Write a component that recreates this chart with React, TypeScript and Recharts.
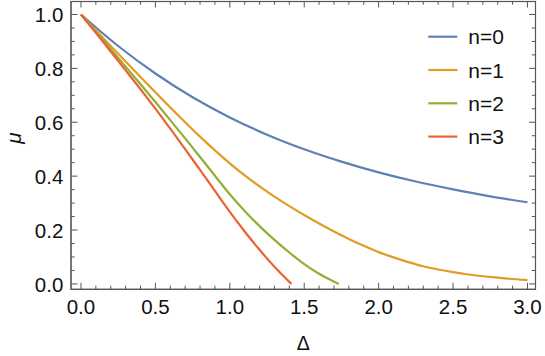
import React from 'react';
import { LineChart, Line, XAxis, YAxis, Label } from 'recharts';

// ---- data ----
const delta0 = [0, 0.25, 0.5, 0.75, 1, 1.25, 1.5, 1.75, 2, 2.25, 2.5, 2.75, 3];
const mu0 = [1, 0.883, 0.781, 0.693, 0.618, 0.554, 0.5, 0.454, 0.414, 0.38, 0.351, 0.325, 0.303];

const delta1 = [0, 0.1, 0.2, 0.3, 0.4, 0.5, 0.6, 0.7, 0.8, 0.9, 1.0, 1.1, 1.2, 1.3, 1.4, 1.5, 1.6, 1.7, 1.8, 1.9, 2.0,
  2.1, 2.2, 2.3, 2.4, 2.5, 2.6, 2.7, 2.8, 2.9, 3.0];
const mu1 = [1, 0.9415, 0.8832, 0.8252, 0.7677, 0.711, 0.655, 0.6, 0.5465, 0.4955, 0.4475, 0.403, 0.362, 0.324, 0.2885,
  0.2555, 0.224, 0.1945, 0.167, 0.1415, 0.118, 0.0985, 0.081, 0.0655, 0.0535, 0.0435, 0.035, 0.0285, 0.023, 0.0182, 0.014];

const delta2 = [0, 0.1, 0.2, 0.3, 0.4, 0.5, 0.6, 0.7, 0.8, 0.9, 1.0, 1.1, 1.2, 1.3, 1.4, 1.5, 1.6, 1.7, 1.732];
const mu2 = [1, 0.936, 0.8715, 0.8065, 0.741, 0.675, 0.608, 0.54, 0.471, 0.4015, 0.3325, 0.2705, 0.2145, 0.1635, 0.1165,
  0.0735, 0.0375, 0.0085, 0];

const delta3 = [0, 0.1, 0.2, 0.3, 0.4, 0.5, 0.6, 0.7, 0.8, 0.9, 1.0, 1.1, 1.2, 1.3, 1.414];
const mu3 = [1, 0.9315, 0.8625, 0.793, 0.7225, 0.6505, 0.5765, 0.5005, 0.423, 0.345, 0.2675, 0.1945, 0.1265, 0.0635, 0];

const seriesNames = ['n=0', 'n=1', 'n=2', 'n=3'];
const seriesColors = ['#5E81B5', '#E19C24', '#8FB032', '#EB6235'];

const xTicks = [0, 0.1, 0.2, 0.3, 0.4, 0.5, 0.6, 0.7, 0.8, 0.9, 1.0, 1.1, 1.2, 1.3, 1.4, 1.5, 1.6, 1.7, 1.8, 1.9, 2.0,
  2.1, 2.2, 2.3, 2.4, 2.5, 2.6, 2.7, 2.8, 2.9, 3.0];
const yTicks = [0, 0.05, 0.1, 0.15, 0.2, 0.25, 0.3, 0.35, 0.4, 0.45, 0.5, 0.55, 0.6, 0.65, 0.7, 0.75, 0.8, 0.85, 0.9, 0.95, 1.0];
const xMajorStep = 0.5;
const yMajorStep = 0.2;

const xLabel = 'Δ';
const yLabel = 'μ';

const zip = (xs: number[], ys: number[]) => xs.map((x, i) => ({ x, y: ys[i] }));
const seriesData = [zip(delta0, mu0), zip(delta1, mu1), zip(delta2, mu2), zip(delta3, mu3)];

// ---- layout ----
const W = 545;
const H = 356;
const MARGIN = { top: 1, right: 9.5, bottom: 0, left: 0 };
const Y_AXIS_W = 71;
const X_AXIS_H = 66.7;
const PLOT_LEFT = 71;
const PLOT_RIGHT = 535.5;
const PLOT_TOP = 1;
const PLOT_BOTTOM = 289.3;

const FONT = '"Liberation Sans", Arial, Helvetica, sans-serif';
const FRAME = '#555555';
const TEXT = '#111111';
const X_DOMAIN: [number, number] = [-0.067, 3.054];
const Y_DOMAIN: [number, number] = [-0.02, 1.05];
const MAJOR_LEN = 6.5;
const MINOR_LEN = 3.7;

const isMajor = (v: number, step: number) => Math.abs(v / step - Math.round(v / step)) < 1e-6;

// same linear mapping as the chart's axes, used only for the mirrored frame ticks
const frameX = (v: number) => PLOT_LEFT + ((v - X_DOMAIN[0]) / (X_DOMAIN[1] - X_DOMAIN[0])) * (PLOT_RIGHT - PLOT_LEFT);
const frameY = (v: number) => PLOT_BOTTOM - ((v - Y_DOMAIN[0]) / (Y_DOMAIN[1] - Y_DOMAIN[0])) * (PLOT_BOTTOM - PLOT_TOP);

const BottomTick = (props: any) => {
  const { x, y, payload } = props;
  const v = payload.value as number;
  const major = isMajor(v, xMajorStep);
  return (
    <g>
      <line x1={x} x2={x} y1={y} y2={y - (major ? MAJOR_LEN : MINOR_LEN)} stroke={FRAME} strokeWidth={1} />
      {major && (
        <text x={x} y={y + 24.5} textAnchor="middle" fontSize={20.5} fontFamily={FONT} fill={TEXT}>
          {v.toFixed(1)}
        </text>
      )}
    </g>
  );
};

const LeftTick = (props: any) => {
  const { x, y, payload } = props;
  const v = payload.value as number;
  const major = isMajor(v, yMajorStep);
  return (
    <g>
      <line x1={x} x2={x + (major ? MAJOR_LEN : MINOR_LEN)} y1={y} y2={y} stroke={FRAME} strokeWidth={1} />
      {major && (
        <text x={x - 7.7} y={y + 7.6} textAnchor="end" fontSize={20.5} fontFamily={FONT} fill={TEXT}>
          {v.toFixed(1)}
        </text>
      )}
    </g>
  );
};

const XAxisTitle = (props: any) => {
  const vb = props.viewBox || {};
  const cx = vb.x + vb.width / 2;
  return (
    <text x={cx} y={350} textAnchor="middle" fontSize={19.5} fontFamily={FONT} fill={TEXT}>
      {xLabel}
    </text>
  );
};

const YAxisTitle = () => {
  const cx = 20.5;
  const cy = 138;
  return (
    <text x={cx} y={cy} textAnchor="middle" fontSize={20.5} fontStyle="italic" fontFamily={FONT} fill={TEXT}
      transform={`rotate(-90, ${cx}, ${cy})`}>
      {yLabel}
    </text>
  );
};

const Overlay = () => (
  <svg width={W} height={H} viewBox={`0 0 ${W} ${H}`}
    style={{ position: 'absolute', left: 0, top: 0, pointerEvents: 'none', zIndex: 5 }}>
    {/* full plot frame (left/bottom coincide with the axis lines) */}
    <rect x={PLOT_LEFT} y={PLOT_TOP + 0.5} width={PLOT_RIGHT - PLOT_LEFT} height={PLOT_BOTTOM - PLOT_TOP - 0.5}
      fill="none" stroke={FRAME} strokeWidth={1.2} />
    {xTicks.map((t) => (
      <line key={'tt' + t} x1={frameX(t)} x2={frameX(t)} y1={PLOT_TOP}
        y2={PLOT_TOP + (isMajor(t, xMajorStep) ? MAJOR_LEN : MINOR_LEN)} stroke={FRAME} strokeWidth={1} />
    ))}
    {yTicks.map((t) => (
      <line key={'rt' + t} x1={PLOT_RIGHT} x2={PLOT_RIGHT - (isMajor(t, yMajorStep) ? MAJOR_LEN : MINOR_LEN)}
        y1={frameY(t)} y2={frameY(t)} stroke={FRAME} strokeWidth={1} />
    ))}
    {/* legend */}
    {seriesNames.map((name, i) => {
      const cy = 36.7 + i * 33.3;
      return (
        <g key={name}>
          <line x1={428.3} x2={457.3} y1={cy} y2={cy} stroke={seriesColors[i]} strokeWidth={2.2} />
          <text x={468.3} y={cy + 7.6} fontSize={21} fontFamily={FONT} fill={TEXT}>
            {name}
          </text>
        </g>
      );
    })}
  </svg>
);

export default function App() {
  return (
    <div style={{ position: 'absolute', left: 0, top: 0, width: W, height: H, background: '#fff' }}>
      <LineChart width={W} height={H} margin={MARGIN}>
        <XAxis xAxisId="b" dataKey="x" type="number" orientation="bottom" domain={X_DOMAIN} allowDataOverflow
          ticks={xTicks} interval={0} height={X_AXIS_H} tickSize={0} tickMargin={0} tickLine={false}
          tick={<BottomTick />} axisLine={{ stroke: FRAME, strokeWidth: 1 }}>
          <Label content={<XAxisTitle />} />
        </XAxis>
        <YAxis yAxisId="l" type="number" orientation="left" domain={Y_DOMAIN} allowDataOverflow
          ticks={yTicks} interval={0} width={Y_AXIS_W} tickSize={0} tickMargin={0} tickLine={false}
          tick={<LeftTick />} axisLine={{ stroke: FRAME, strokeWidth: 1 }}>
          <Label content={<YAxisTitle />} />
        </YAxis>
        {seriesData.map((d, i) => (
          <Line key={seriesNames[i]} xAxisId="b" yAxisId="l" data={d} dataKey="y" name={seriesNames[i]}
            type="monotone" stroke={seriesColors[i]} strokeWidth={2.2} dot={false} activeDot={false}
            isAnimationActive={false} />
        ))}
      </LineChart>
      <Overlay />
    </div>
  );
}
